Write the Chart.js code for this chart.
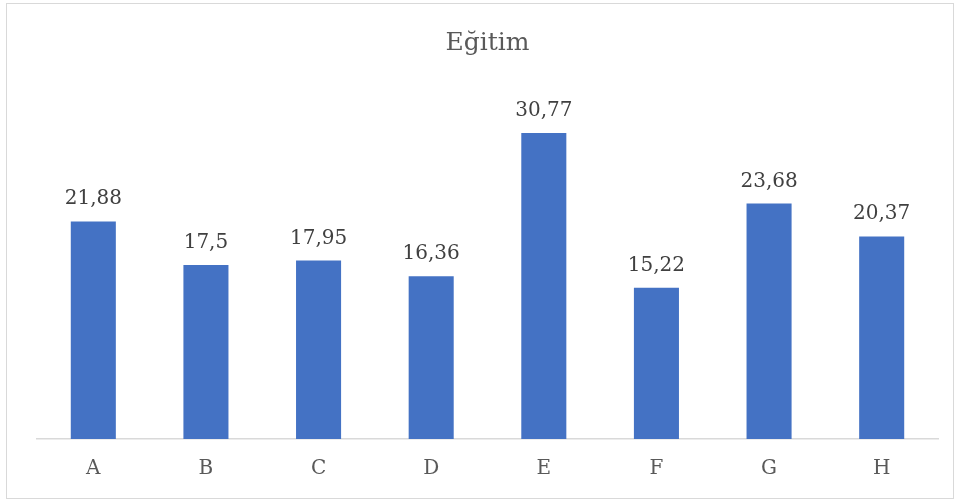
<!DOCTYPE html>
<html>
<head>
<meta charset="utf-8">
<script src="https://cdn.jsdelivr.net/npm/chart.js@4/dist/chart.umd.min.js"></script>
<style>
  html, body { margin: 0; padding: 0; background: #ffffff; }
  #wrap { position: relative; width: 956px; height: 499px; }
  #frame { position: absolute; left: 6px; top: 3px; width: 946px; height: 494px; border: 1px solid #d9d9d9; pointer-events: none; }
  canvas { position: absolute; left: 0; top: 0; }
</style>
</head>
<body>
<div id="wrap">
  <canvas id="chart" width="956" height="499"></canvas>
  <div id="frame"></div>
</div>
<script>
const categories = ['A', 'B', 'C', 'D', 'E', 'F', 'G', 'H'];
const egitimValues = [21.88, 17.5, 17.95, 16.36, 30.77, 15.22, 23.68, 20.37];
const chartTitle = 'Eğitim';

const FONT = "'DejaVu Serif', 'Liberation Serif', serif";

// Writes each bar's value above it, with a comma as decimal separator
const valueLabels = {
  id: 'valueLabels',
  afterDatasetsDraw(chart) {
    const ctx = chart.ctx;
    const meta = chart.getDatasetMeta(0);
    ctx.save();
    ctx.font = '20px ' + FONT;
    ctx.fillStyle = '#404040';
    ctx.textAlign = 'center';
    ctx.textBaseline = 'alphabetic';
    meta.data.forEach((bar, i) => {
      const text = String(chart.data.datasets[0].data[i]).replace('.', ',');
      ctx.fillText(text, bar.x, bar.y - 17);
    });
    ctx.restore();
  }
};

new Chart(document.getElementById('chart'), {
  type: 'bar',
  data: {
    labels: categories,
    datasets: [{
      label: chartTitle,
      data: egitimValues,
      backgroundColor: '#4472C4',
      borderWidth: 0,
      barPercentage: 0.4,
      categoryPercentage: 1.0
    }]
  },
  options: {
    responsive: false,
    animation: false,
    layout: { padding: { left: 37, right: 18, top: 0, bottom: 0 } },
    plugins: {
      legend: { display: false },
      tooltip: { enabled: false },
      title: {
        display: true,
        text: chartTitle,
        color: '#595959',
        font: { family: FONT, size: 25, weight: 'normal' },
        padding: { top: 28, bottom: 33 }
      }
    },
    scales: {
      x: {
        grid: { display: false, drawTicks: false },
        border: { display: true, color: '#d9d9d9', width: 1.5 },
        ticks: {
          color: '#595959',
          font: { family: FONT, size: 20, lineHeight: 1.0 },
          padding: 20
        }
      },
      y: {
        display: false,
        min: 0,
        max: 35
      }
    }
  },
  plugins: [valueLabels]
});
</script>
</body>
</html>
